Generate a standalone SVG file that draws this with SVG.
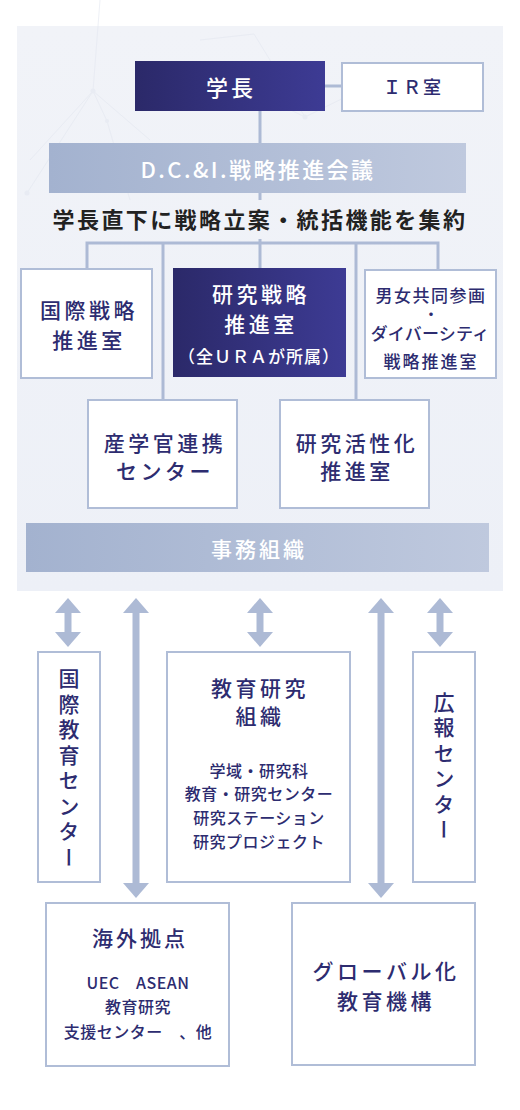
<svg xmlns="http://www.w3.org/2000/svg" width="520" height="1110" viewBox="0 0 520 1110">
<defs>
<linearGradient id="dark" x1="0" y1="0" x2="1" y2="0"><stop offset="0" stop-color="#2b2969"/><stop offset="1" stop-color="#3d3b94"/></linearGradient>
<linearGradient id="bar" x1="0" y1="0" x2="1" y2="0"><stop offset="0" stop-color="#a3b2cf"/><stop offset="1" stop-color="#bfc9de"/></linearGradient>
<linearGradient id="panel" x1="0" y1="0" x2="0" y2="1"><stop offset="0" stop-color="#f1f3f8"/><stop offset="1" stop-color="#edf0f7"/></linearGradient>
<marker id="ah" viewBox="0 -13 15 26" refX="0" refY="0" markerWidth="15" markerHeight="26" markerUnits="userSpaceOnUse" orient="auto-start-reverse"><path d="M0,-13 L15,0 L0,13 Z" fill="#adbad5"/></marker>
<style>
text{font-family:"Noto Sans CJK JP","Noto Sans",sans-serif;dominant-baseline:central;text-anchor:middle}
.box{fill:#fff;stroke:#b0bdd7;stroke-width:2}
.dk{fill:url(#dark)}
.bar{fill:url(#bar)}
.n{fill:#2d2c70;font-weight:500}
.w{fill:#fff;font-weight:500}
.t21{font-size:21px;letter-spacing:3.5px}
.t16{font-size:16px;letter-spacing:0.5px}
.ln{stroke:#adbad5;stroke-width:3;fill:none}
.ar{stroke:#adbad5;stroke-width:7;marker-start:url(#ah);marker-end:url(#ah)}
.deco{stroke:#e4e8f1;stroke-width:1;fill:none}
.vt{writing-mode:vertical-rl;text-orientation:upright;font-size:21px;letter-spacing:4.5px}
</style>
</defs>
<rect x="17" y="26" width="486" height="565" fill="url(#panel)"/>
<g id="decoration" opacity="0.6">
<path class="deco" d="M30,160 L93,91 L150,140 M93,91 L107,121 L130,200 M200,40 L254,34 L305,117 L250,90 M305,117 L380,80 M27,193 L93,91 M100,0 L93,91"/>
<circle cx="93" cy="91" r="2.5" fill="#e4e8f1"/><circle cx="305" cy="117" r="2.5" fill="#e4e8f1"/><circle cx="27" cy="193" r="2.5" fill="#e4e8f1"/><circle cx="107" cy="121" r="2" fill="#e4e8f1"/>
</g>
<g id="connectors">
<line class="ln" x1="325" y1="86" x2="342" y2="86"/>
<line class="ln" x1="260" y1="111" x2="260" y2="143"/>
<line class="ln" x1="260" y1="193" x2="260" y2="200"/>
<line class="ln" x1="260" y1="239" x2="260" y2="268"/>
<path class="ln" d="M87,270 V243 H438 V270 M163,243 V400 M356,243 V400"/>
<line class="ar" x1="68" y1="613" x2="68" y2="632"/>
<line class="ar" x1="260" y1="613" x2="260" y2="632"/>
<line class="ar" x1="440" y1="613" x2="440" y2="632"/>
<line class="ar" x1="136" y1="613" x2="136" y2="883"/>
<line class="ar" x1="381" y1="613" x2="381" y2="883"/>
</g>
<g id="president"><rect class="dk" x="135" y="61" width="190" height="50"/><text class="w" x="231" y="86" font-size="22" letter-spacing="3">学長</text></g>
<g id="ir"><rect class="box" x="342" y="63" width="141" height="48"/><text class="n" x="413" y="86" font-size="18" letter-spacing="2">ＩＲ室</text></g>
<g id="dci"><rect class="bar" x="49" y="143" width="417" height="50"/><text class="w" x="258" y="168" font-size="22" letter-spacing="2.4">D.C.&amp;I.戦略推進会議</text></g>
<g id="caption"><text x="260" y="218" font-size="22" font-weight="700" fill="#222" letter-spacing="2.4">学長直下に戦略立案・統括機能を集約</text></g>
<g id="kokusai-senryaku"><rect class="box" x="21" y="269" width="131" height="109"/><text class="n t21" x="89" y="309">国際戦略</text><text class="n t21" x="89" y="339">推進室</text></g>
<g id="kenkyu-senryaku"><rect class="dk" x="173" y="268" width="173" height="109"/><text class="w t21" x="261" y="293">研究戦略</text><text class="w t21" x="261" y="323">推進室</text><text class="w" x="259" y="355" font-size="17" letter-spacing="1">（全ＵＲＡが所属）</text></g>
<g id="danjo"><rect class="box" x="365" y="270" width="131" height="108"/><text class="n" x="431" y="294" font-size="17" letter-spacing="1.5">男女共同参画</text><text class="n" x="431" y="313" font-size="15">・</text><text class="n" x="430" y="332" font-size="17" letter-spacing="0.2">ダイバーシティ</text><text class="n" x="431" y="360" font-size="17" letter-spacing="2">戦略推進室</text></g>
<g id="sangakukan"><rect class="box" x="88" y="400" width="149" height="108"/><text class="n t21" x="165" y="442">産学官連携</text><text class="n t21" x="165" y="470">センター</text></g>
<g id="kasseika"><rect class="box" x="280" y="400" width="149" height="108"/><text class="n t21" x="357" y="442">研究活性化</text><text class="n t21" x="357" y="470">推進室</text></g>
<g id="jimu"><rect class="bar" x="26" y="523" width="463" height="49"/><text class="w" x="259" y="548" font-size="21" letter-spacing="3">事務組織</text></g>
<g id="kokusai-kyoiku"><rect class="box" x="38" y="652" width="62" height="230"/><text class="n vt" x="69" y="770">国際教育センター</text></g>
<g id="kyoiku-kenkyu"><rect class="box" x="167" y="652" width="183" height="230"/><text class="n t21" x="260" y="687">教育研究</text><text class="n t21" x="260" y="715">組織</text><text class="n t16" x="259" y="770">学域・研究科</text><text class="n t16" x="259" y="793">教育・研究センター</text><text class="n t16" x="259" y="817">研究ステーション</text><text class="n t16" x="259" y="841">研究プロジェクト</text></g>
<g id="koho"><rect class="box" x="413" y="652" width="62" height="230"/><text class="n vt" x="444" y="768">広報センター</text></g>
<g id="kaigai"><rect class="box" x="46" y="903" width="183" height="163"/><text class="n" x="140" y="937" font-size="21" letter-spacing="3">海外拠点</text><text class="n t16" x="138" y="982">UEC　ASEAN</text><text class="n t16" x="138" y="1006">教育研究</text><text class="n t16" x="138" y="1031">支援センター　、他</text></g>
<g id="global"><rect class="box" x="292" y="903" width="183" height="162"/><text class="n t21" x="386" y="970" letter-spacing="2">グローバル化</text><text class="n t21" x="386" y="1000">教育機構</text></g>
</svg>
